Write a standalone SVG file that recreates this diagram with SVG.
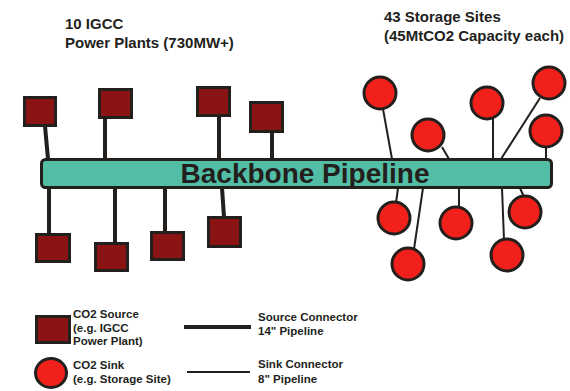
<svg xmlns="http://www.w3.org/2000/svg" width="570" height="391" viewBox="0 0 570 391">
<style>
text{font-family:"Liberation Sans",Arial,sans-serif;font-weight:bold;fill:#231f1c}
.title{font-size:15px}
.leg{font-size:11.5px}
.src{stroke:#231f1c;stroke-width:4;fill:none}
.snk{stroke:#231f1c;stroke-width:2;fill:none}
.plant{fill:#8a1414;stroke:#231f1c;stroke-width:3}
.site{fill:#f2201a;stroke:#231f1c;stroke-width:3}
</style>
<rect width="570" height="391" fill="#ffffff"/>
<g id="titles">
<text class="title" x="65" y="29">10 IGCC</text>
<text class="title" x="65" y="48">Power Plants (730MW+)</text>
<text class="title" x="384" y="22">43 Storage Sites</text>
<text class="title" x="384" y="41">(45MtCO2 Capacity each)</text>
</g>
<g id="connectors">
<line class="src" x1="45" y1="126" x2="48" y2="159"/>
<line class="src" x1="105" y1="118" x2="105" y2="159"/>
<line class="src" x1="219" y1="116" x2="219" y2="159"/>
<line class="src" x1="272" y1="132" x2="272" y2="159"/>
<line class="src" x1="49" y1="188" x2="49" y2="234"/>
<line class="src" x1="115" y1="188" x2="115" y2="243"/>
<line class="src" x1="165" y1="188" x2="165" y2="232"/>
<line class="src" x1="222" y1="188" x2="224" y2="217"/>
<line class="snk" x1="383" y1="109" x2="392" y2="159"/>
<line class="snk" x1="442" y1="147" x2="449" y2="159"/>
<line class="snk" x1="493" y1="118" x2="493" y2="159"/>
<line class="snk" x1="540" y1="98" x2="501" y2="159"/>
<line class="snk" x1="546" y1="146" x2="546" y2="159"/>
<line class="snk" x1="398" y1="188" x2="396" y2="203"/>
<line class="snk" x1="423" y1="188" x2="414" y2="249"/>
<line class="snk" x1="459" y1="188" x2="459" y2="208"/>
<line class="snk" x1="502" y1="188" x2="504" y2="240"/>
<line class="snk" x1="520" y1="188" x2="524" y2="197"/>
</g>
<g id="backbone">
<rect x="41.5" y="159.5" width="510" height="28" rx="4" fill="#52bea6" stroke="#231f1c" stroke-width="3"/>
<text x="305" y="183" font-size="28" text-anchor="middle">Backbone Pipeline</text>
</g>
<g id="plant1"><rect class="plant" x="24.5" y="97.5" width="31" height="28"/></g>
<g id="plant2"><rect class="plant" x="99.5" y="89.5" width="32" height="28"/></g>
<g id="plant3"><rect class="plant" x="197.5" y="87.5" width="32" height="28"/></g>
<g id="plant4"><rect class="plant" x="250.5" y="102.5" width="32" height="29"/></g>
<g id="plant5"><rect class="plant" x="36.5" y="234.5" width="33" height="27"/></g>
<g id="plant6"><rect class="plant" x="95.5" y="243.5" width="32" height="27"/></g>
<g id="plant7"><rect class="plant" x="151.5" y="232.5" width="32" height="27"/></g>
<g id="plant8"><rect class="plant" x="208.5" y="217.5" width="32" height="29"/></g>
<g id="site1"><circle class="site" cx="380" cy="93" r="16"/></g>
<g id="site2"><circle class="site" cx="428" cy="135" r="16"/></g>
<g id="site3"><circle class="site" cx="487" cy="103" r="16"/></g>
<g id="site4"><circle class="site" cx="549" cy="83" r="16"/></g>
<g id="site5"><circle class="site" cx="546" cy="131" r="16"/></g>
<g id="site6"><circle class="site" cx="394" cy="218" r="16"/></g>
<g id="site7"><circle class="site" cx="408" cy="264" r="16"/></g>
<g id="site8"><circle class="site" cx="456" cy="223" r="16"/></g>
<g id="site9"><circle class="site" cx="507" cy="255" r="16"/></g>
<g id="site10"><circle class="site" cx="525" cy="212" r="16"/></g>
<g id="legend">
<rect class="plant" x="36.5" y="316.5" width="33" height="26"/>
<text class="leg" x="73" y="318">CO2 Source</text>
<text class="leg" x="73" y="332">(e.g. IGCC</text>
<text class="leg" x="73" y="345">Power Plant)</text>
<ellipse class="site" cx="51" cy="373" rx="15.5" ry="14.5"/>
<text class="leg" x="73" y="369">CO2 Sink</text>
<text class="leg" x="73" y="383">(e.g. Storage Site)</text>
<line class="src" x1="184" y1="327" x2="251" y2="327"/>
<text class="leg" x="258" y="321">Source Connector</text>
<text class="leg" x="258" y="335">14" Pipeline</text>
<line class="snk" x1="187" y1="372" x2="250" y2="372"/>
<text class="leg" x="258" y="368">Sink Connector</text>
<text class="leg" x="258" y="383">8" Pipeline</text>
</g>
</svg>
